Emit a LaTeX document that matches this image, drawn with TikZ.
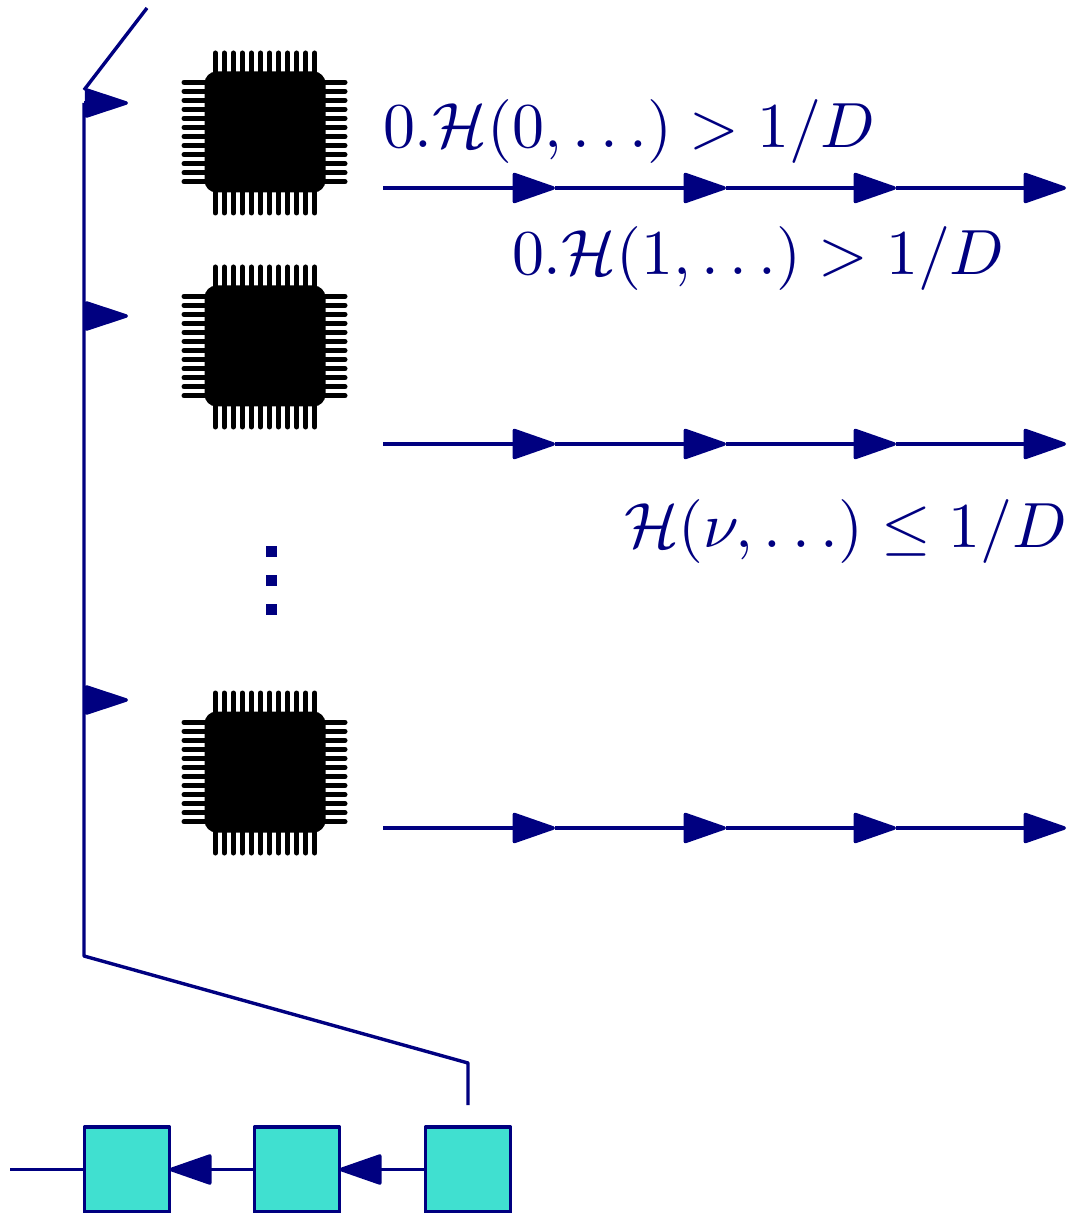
\documentclass[tikz,border=0pt]{standalone}
\usepackage{amsmath}
\usetikzlibrary{arrows.meta}
\definecolor{flowblue}{RGB}{0,0,128}
\definecolor{cellfill}{RGB}{64,224,208}
\tikzset{
  x=0.5pt,y=-0.5pt,
  wire/.style={draw=flowblue,line width=1.7pt,line join=round},
  flow/.style={wire,-{Triangle[length=23pt,width=15.5pt,round]},flowblue},
  fan/.style={wire,-{Triangle[length=23.5pt,width=15pt,round]},flowblue},
  cell/.style={draw=flowblue,fill=cellfill,line width=1.7pt,minimum size=42.5pt,inner sep=0pt,line join=round},
  chipbody/.style={fill=black,rounded corners=6pt,minimum size=60.5pt,inner sep=0pt},
  pin/.style={draw=black,line width=2.5pt,line cap=round},
  lab/.style={text=flowblue,scale=3.195,anchor=base west,inner sep=0pt,outer sep=0pt},
  dotsq/.style={fill=flowblue,minimum size=5.5pt,inner sep=0pt}
}
\begin{document}
\begin{tikzpicture}
\useasboundingbox (0,0) rectangle (1066,1213);
% chips
\foreach \n/\cy in {chipa/132,chipb/346,chipc/772}{
  \node[chipbody] (\n) at (265,\cy) {};
  \foreach \k in {0,...,11}{
    \pgfmathsetmacro{\off}{-49.8+9.05*\k}
    \draw[pin] ([shift={(\off,-58)}]\n.center) -- ([shift={(\off,-79)}]\n.center);
    \draw[pin] ([shift={(\off,58)}]\n.center) -- ([shift={(\off,81)}]\n.center);
    \draw[pin] ([shift={(-58,\off)}]\n.center) -- ([shift={(-81,\off)}]\n.center);
    \draw[pin] ([shift={(58,\off)}]\n.center) -- ([shift={(80,\off)}]\n.center);
  }
}
% output chains
\foreach \r/\y in {a/188,b/444,c/828}{
  \coordinate (\r0) at (383,\y);
  \coordinate (\r1) at (555,\y);
  \coordinate (\r2) at (726,\y);
  \coordinate (\r3) at (896,\y);
  \coordinate (\r4) at (1066,\y);
  \draw[flow] (\r0) -- (\r1);
  \draw[flow] (\r1) -- (\r2);
  \draw[flow] (\r2) -- (\r3);
  \draw[flow] (\r3) -- (\r4);
}
% labels
\node[lab] (la) at (383,148) {$0.\mathcal{H}(0,\ldots)>1/D$};
\node[lab] (lb) at (512,275) {$0.\mathcal{H}(1,\ldots)>1/D$};
\node[lab] (lc) at (624,547) {$\mathcal{H}(\nu,\ldots)\leq 1/D$};
% vertical dots
\node[dotsq] (d1) at (271,551) {};
\node[dotsq] (d2) at (271,580) {};
\node[dotsq] (d3) at (271,609) {};
% feed bus
\coordinate (top) at (147,8);
\coordinate (joint) at (84,90);
\coordinate (bus0) at (84,103);
\coordinate (bus1) at (84,316);
\coordinate (bus2) at (84,700);
\coordinate (bus3) at (84,956);
\coordinate (bend) at (468,1063);
\coordinate (tap) at (468,1105);
\coordinate (t0) at (128,103);
\coordinate (t1) at (128,316);
\coordinate (t2) at (128,700);
\draw[wire] (top) -- (joint);
\draw[wire] (bus0) -- (bus3) -- (bend) -- (tap);
\draw[fan] (bus0) -- (t0);
\draw[fan] (bus1) -- (t1);
\draw[fan] (bus2) -- (t2);
% shift register
\node[cell] (s1) at (127,1169.5) {};
\node[cell] (s2) at (297,1169.5) {};
\node[cell] (s3) at (468,1169.5) {};
\coordinate (in) at (10,1169.5);
\draw[wire] (in) -- (s1.west);
\draw[flow,shorten >=-1pt] (s2.west) -- (s1.east);
\draw[flow,shorten >=-1pt] (s3.west) -- (s2.east);
\end{tikzpicture}
\end{document}
